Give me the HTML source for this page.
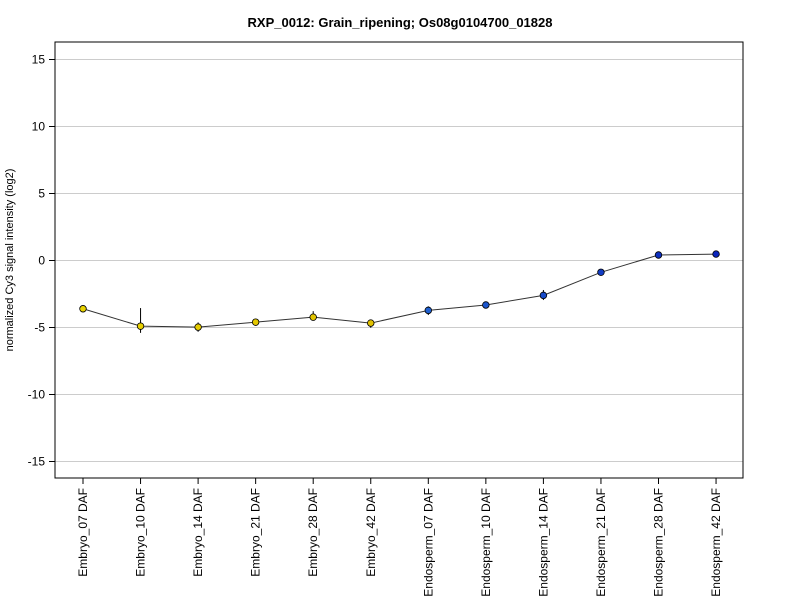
<!DOCTYPE html>
<html><head><meta charset="utf-8"><style>body{margin:0;background:#fff}svg{font-family:"Liberation Sans",Arial,sans-serif}</style></head>
<body>
<svg id="chart" width="800" height="600"></svg>
<script>
const categories=["Embryo_07 DAF","Embryo_10 DAF","Embryo_14 DAF","Embryo_21 DAF","Embryo_28 DAF","Embryo_42 DAF","Endosperm_07 DAF","Endosperm_10 DAF","Endosperm_14 DAF","Endosperm_21 DAF","Endosperm_28 DAF","Endosperm_42 DAF"];
const values=[-3.6,-4.9,-4.97,-4.6,-4.23,-4.67,-3.72,-3.32,-2.6,-0.88,0.41,0.48];
const errUp=[0.1,1.35,0.35,0.2,0.45,0.25,0.3,0.15,0.4,0.15,0.1,0.1];
const errDown=[0.1,0.5,0.35,0.2,0.2,0.35,0.35,0.15,0.35,0.15,0.1,0.1];
const colors=["#e8d200","#e8d000","#e6cc00","#e4c800","#e2c400","#e0c000","#1f60d0","#1b55cc","#174ac8","#123cc4","#0d30c0","#0a25bc"];
const yTicks=[15,10,5,0,-5,-10,-15];
const svg=document.getElementById('chart');const NS="http://www.w3.org/2000/svg";
function mk(t,a,p){const e=document.createElementNS(NS,t);for(const k in a)e.setAttribute(k,a[k]);(p||svg).appendChild(e);return e;}
const L=55,R=743,T=42,B=478;
const y=v=>260.5-v*13.4;
const x=i=>83+i*57.55;
yTicks.forEach(t=>{
 const g=mk('line',{x1:L,x2:R,y1:y(t),y2:y(t),stroke:'#cccccc','stroke-width':1});
 
 const tk=mk('line',{x1:L-6,x2:L,y1:y(t),y2:y(t),stroke:'#000'});
 
 const tx=mk('text',{x:L-10,y:y(t)+4,'text-anchor':'end','font-size':12});tx.textContent=t;
 
});
const fr=mk('rect',{x:L,y:T,width:R-L,height:B-T,fill:'none',stroke:'#000'});

const pts=values.map((v,i)=>x(i)+','+y(v)).join(' ');
const ln=mk('polyline',{points:pts,fill:'none',stroke:'#333','stroke-width':1});

categories.forEach((c,i)=>{
 const tk=mk('line',{x1:x(i),x2:x(i),y1:B,y2:B+6,stroke:'#000'});
 
 const tx=mk('text',{x:0,y:0,'text-anchor':'end','font-size':12,transform:`translate(${x(i)+4},${B+10}) rotate(-90)`});tx.textContent=c;
 
 const eb=mk('line',{x1:x(i),x2:x(i),y1:y(values[i]+errUp[i]),y2:y(values[i]-errDown[i]),stroke:'#000'});
 
 const p=mk('circle',{cx:x(i),cy:y(values[i]),r:3.3,fill:colors[i],stroke:'#000','stroke-width':0.8});
 
});
const ti=mk('text',{x:400,y:27,'text-anchor':'middle','font-size':13,'font-weight':'bold'});ti.textContent="RXP_0012: Grain_ripening; Os08g0104700_01828";

const yt=mk('text',{x:0,y:0,'text-anchor':'middle','font-size':11,transform:'translate(13,260) rotate(-90)'});yt.textContent="normalized Cy3 signal intensity (log2)";

</script>
</body></html>
